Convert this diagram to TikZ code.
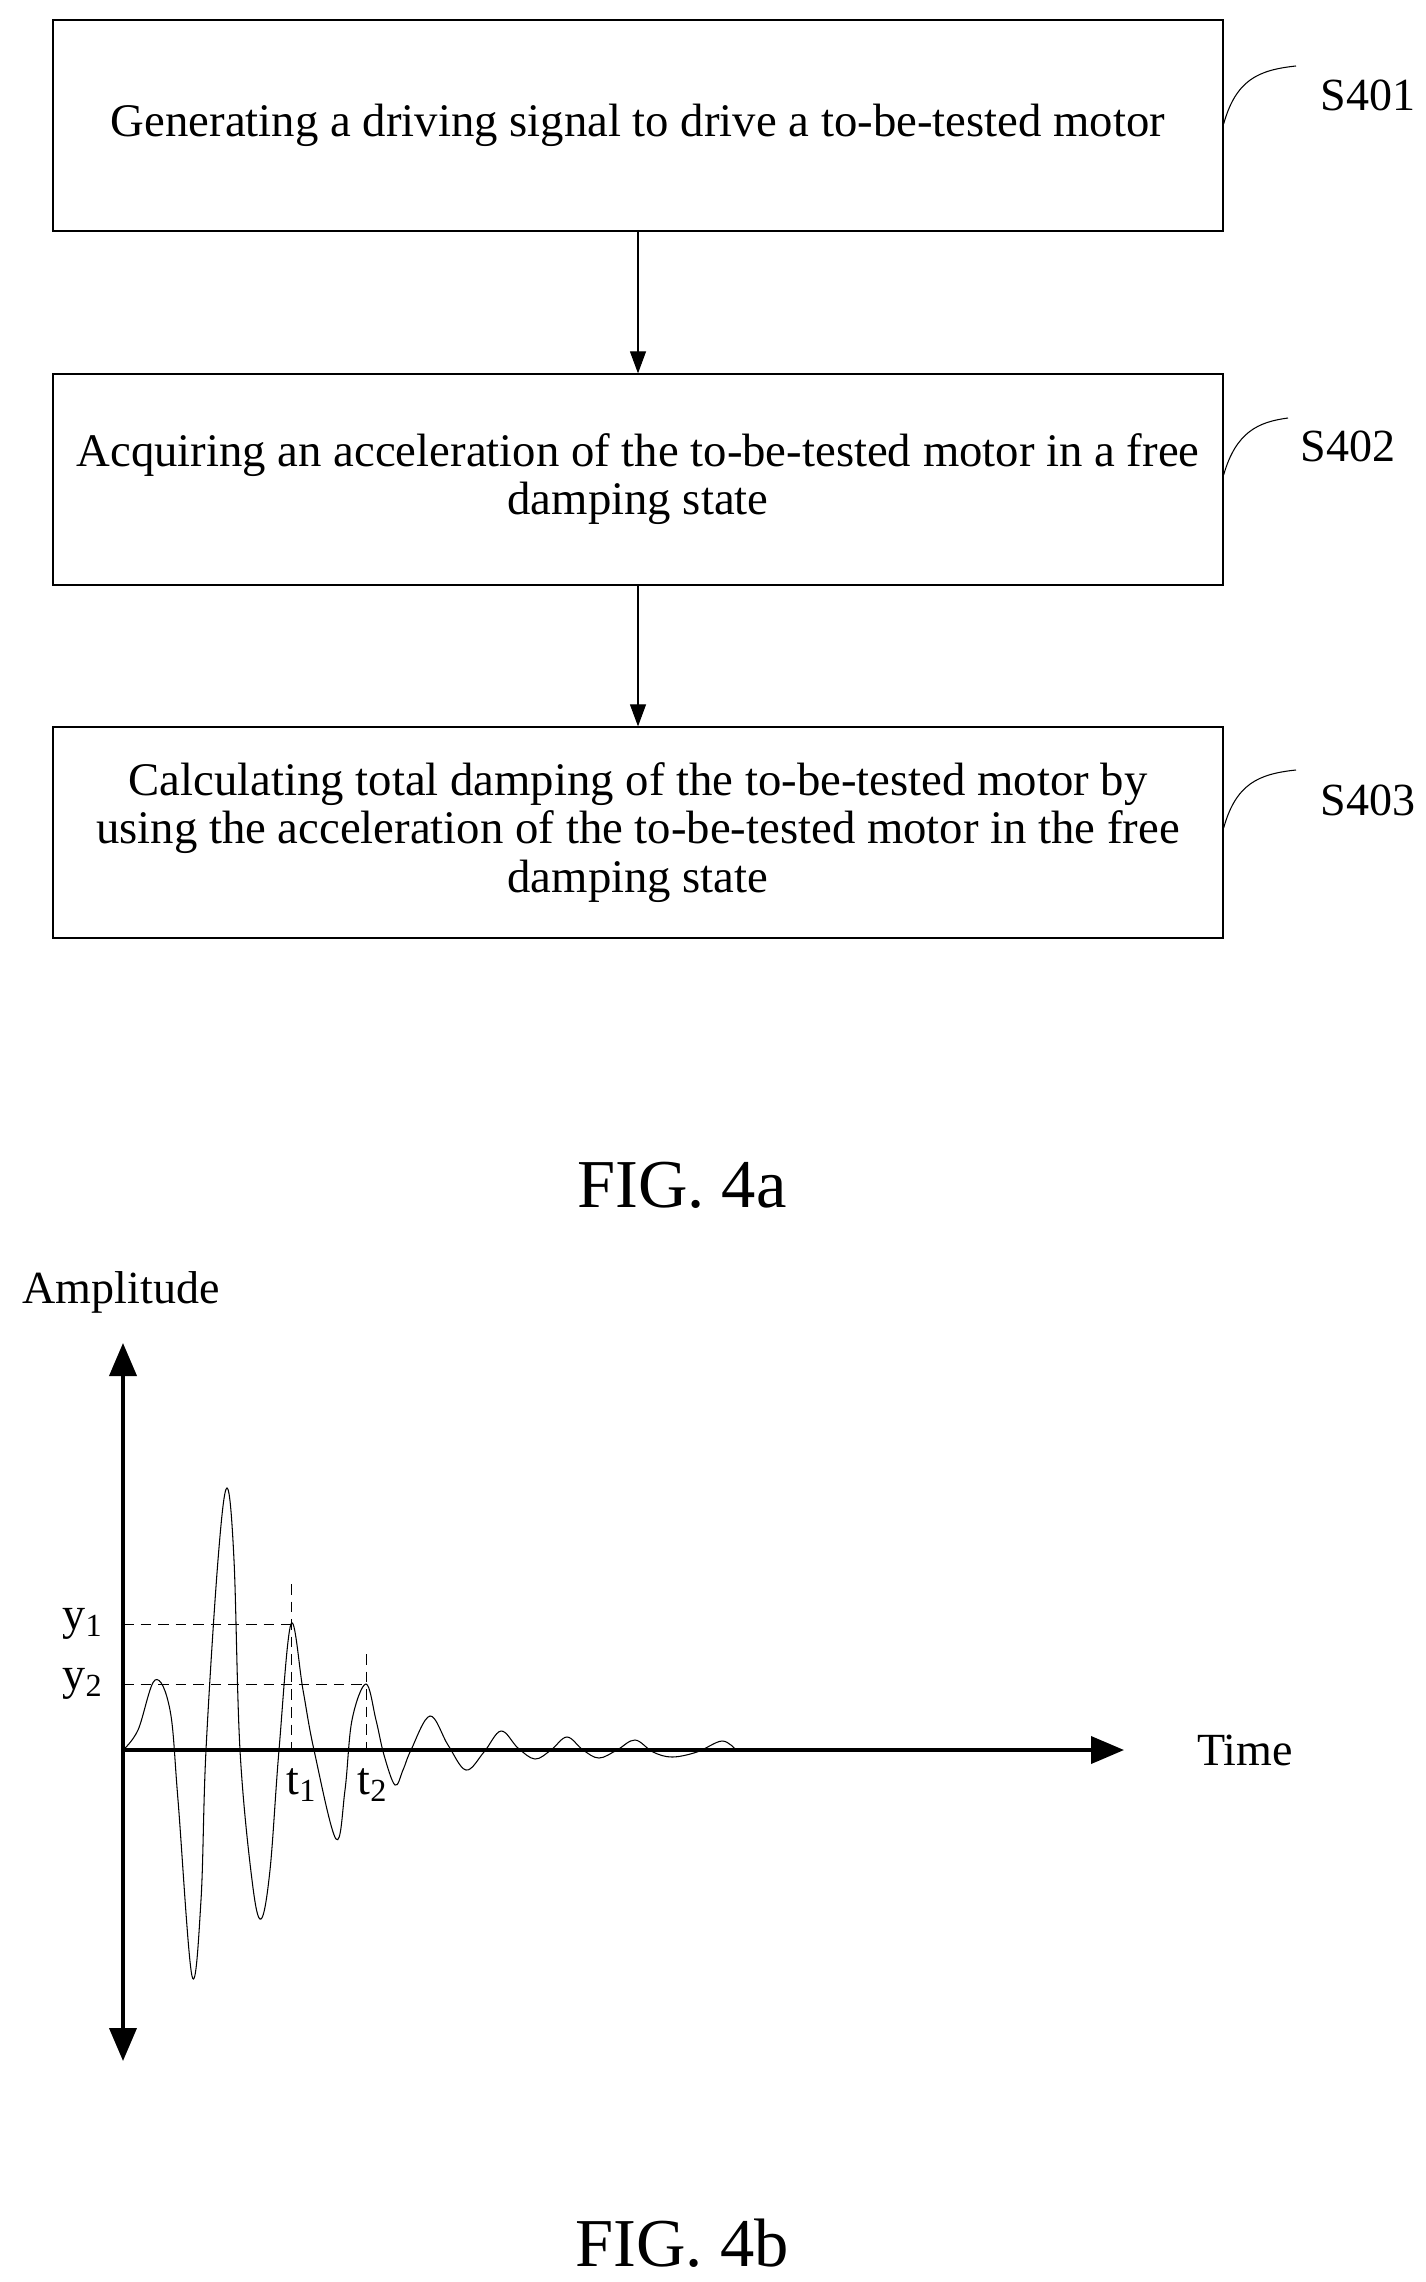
\documentclass[tikz,border=0pt]{standalone}
\usepackage{fontspec}
\setmainfont{Liberation Serif}
\usetikzlibrary{arrows.meta,positioning}

\tikzset{
  stepbox/.style={draw, line width=0.35pt, minimum width=117.0mm, minimum height=21.1mm,
    align=center, font=\fontsize{13.3}{13.7}\selectfont, inner sep=1mm},
  flow/.style={-{Triangle[length=2.2mm,width=1.6mm]}, line width=0.3pt},
  tag/.style={font=\fontsize{13.1}{14}\selectfont},
  hook/.style={line width=0.3pt},
  axis/.style={line width=1.1pt, -{Triangle[length=3.3mm,width=2.7mm]}},
  guide/.style={line width=0.25pt, densely dashed},
  fig/.style={font=\fontsize{19.5}{22}\selectfont}
}

\begin{document}
\begin{tikzpicture}[x=0.1mm, y=-0.1mm]
  \useasboundingbox (0,0) rectangle (1426,2282);

  % flow chart
  \node [stepbox] (s1) at (638,125.5) {Generating a driving signal to drive a to-be-tested motor};
  \node [stepbox] (s2) at (638,479.5) {Acquiring an acceleration of the to-be-tested motor in a free\\damping state};
  \node [stepbox] (s3) at (638,832.5) {Calculating total damping of the to-be-tested motor by\\using the acceleration of the to-be-tested motor in the free\\damping state};

  \draw [flow] (s1) -- (s2);
  \draw [flow] (s2) -- (s3);

  \node [tag] (l1) at (1368,95) {S401};
  \node [tag] (l2) at (1348,446) {S402};
  \node [tag] (l3) at (1368,800) {S403};

  \coordinate (h1) at (s1.east |- 0,124);
  \coordinate (h2) at (s2.east |- 0,475);
  \coordinate (h3) at (s3.east |- 0,828);
  \draw [hook] (h1) .. controls (1236,80) and (1258,70) .. (1296,66);
  \draw [hook] (h2) .. controls (1236,432) and (1258,422) .. (1288,418);
  \draw [hook] (h3) .. controls (1236,784) and (1258,774) .. (1296,770);

  \node [fig] (f4a) at (682,1185) {FIG. 4a};

  % waveform
  \coordinate (o) at (123,1750);
  \coordinate (top) at (123,1343);
  \coordinate (bot) at (123,2061);
  \coordinate (xe) at (1124,1750);
  \draw [axis] (o) -- (top);
  \draw [axis] (o) -- (bot);
  \draw [axis] (o) -- (xe);

  \node [tag, anchor=south] (amp) at (121,1326) {Amplitude};
  \node [tag, anchor=west] (time) at (1185,1750) {Time};

  \coordinate (p1) at (291,1624);
  \coordinate (p2) at (366,1684);
  \draw [guide] (o |- p1) -- (p1);
  \draw [guide] (o |- p2) -- (p2);
  \draw [guide] (291,1584) -- (291,1750);
  \draw [guide] (366,1654) -- (366,1750);

  \node [tag, anchor=east] (y1) at (116,1624) {y\textsubscript{1}};
  \node [tag, anchor=east] (y2) at (116,1684) {y\textsubscript{2}};
  \node [tag] (t1) at (302,1785) {t\textsubscript{1}};
  \node [tag] (t2) at (373,1785) {t\textsubscript{2}};

  \draw [line width=0.3pt] plot [smooth, tension=0.6] coordinates {
    (123,1750) (138,1730) (155,1680) (170,1710) (178,1800) (192,1976) (201,1900)
    (206,1750) (218,1560) (227,1488) (234,1560) (240,1750) (252,1880) (261,1919)
    (270,1870) (279,1750) (291,1624) (303,1690) (314,1750) (336,1839) (345,1790)
    (352,1720) (366,1684) (376,1720) (384,1755) (395,1785) (403,1770) (411,1750)
    (430,1716) (448,1745) (466,1770) (484,1752) (501,1731) (518,1748) (535,1759)
    (551,1750) (567,1737) (583,1750) (599,1758) (617,1750) (635,1740) (653,1752)
    (672,1757) (697,1752) (722,1741) (736,1750)};

  \node [fig] (f4b) at (682,2243) {FIG. 4b};
\end{tikzpicture}
\end{document}
